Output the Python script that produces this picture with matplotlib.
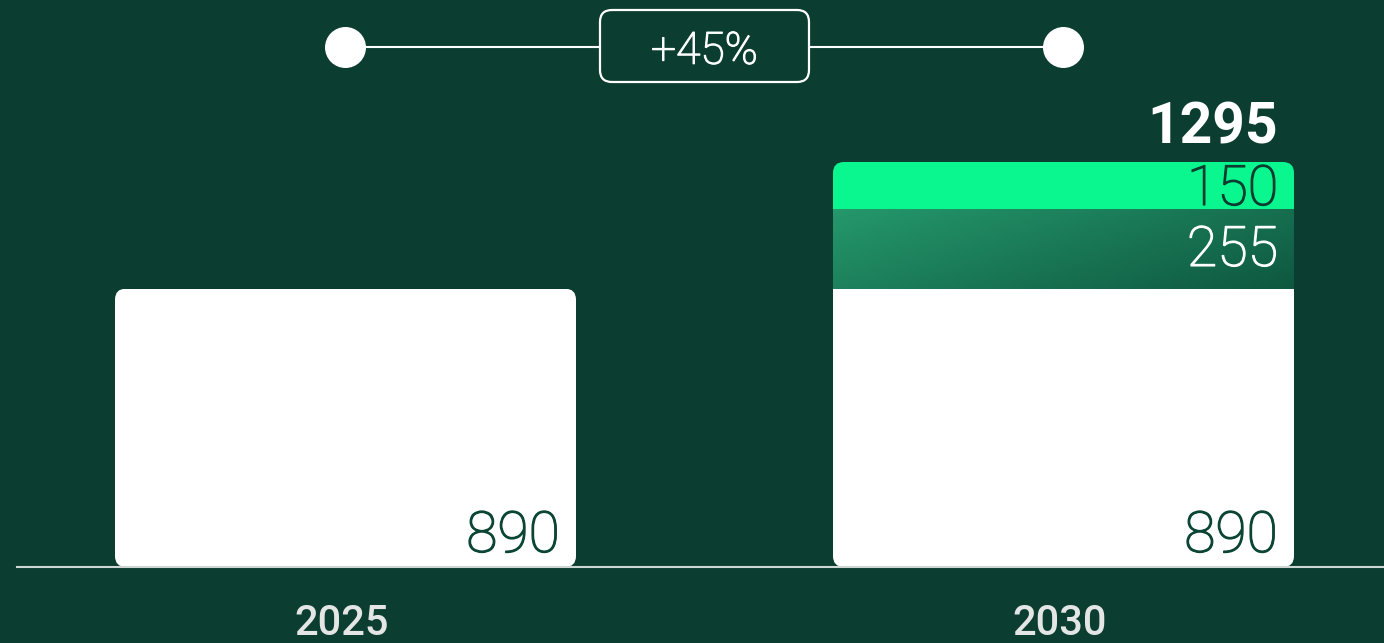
import matplotlib
matplotlib.use('Agg')
import matplotlib.pyplot as plt
import matplotlib.patheffects as pe
import numpy as np
from matplotlib.patches import FancyBboxPatch
from matplotlib.colors import LinearSegmentedColormap

# ---- data ----
years = ['2025', '2030']
base = [890, 890]
mid = [0, 255]
top = [0, 150]
growth_label = '+45%'

# ---- style / layout ----
BG = '#0b3e30'
W, H = 1384, 643
FONT = 'Roboto'
NUMW = 'light'
fig = plt.figure(figsize=(W / 100, H / 100), dpi=100, facecolor=BG)
ax = fig.add_axes([0, 0, 1, 1])
ax.set_facecolor(BG)
ax.axis('off')


def thick(c):
    return [pe.Stroke(linewidth=0.9, foreground=c), pe.Normal()]


XL = (-0.4812, 1.4464)
YL = (-243, 1813)
sx = W / (XL[1] - XL[0])   # px per x unit
sy = H / (YL[1] - YL[0])   # px per y unit
bw = 461 / sx
r = 11  # corner radius in px

x = np.arange(len(years))
base_a = np.array(base)
mid_a = np.array(mid)
top_a = np.array(top)
totals = base_a + mid_a + top_a

grad_cmap = LinearSegmentedColormap.from_list('g', ['#25986c', '#0e5840'])

for i in range(len(years)):
    clip = FancyBboxPatch((x[i] - bw / 2, 0), bw, totals[i],
                          boxstyle=f'round,pad=0,rounding_size={r / sx}',
                          mutation_aspect=sx / sy, fc='none', ec='none',
                          transform=ax.transData)
    ax.add_patch(clip)
    b1 = ax.bar(x[i], base_a[i], bw, color='white', linewidth=0)
    b1[0].set_clip_path(clip)
    if mid_a[i] > 0:
        u = np.linspace(0, 1, 300)[None, :]
        v = np.linspace(0, 1, 60)[:, None]
        t = 0.65 * u + 0.35 * v
        im = ax.imshow(t, cmap=grad_cmap, aspect='auto', origin='upper',
                       extent=(x[i] - bw / 2, x[i] + bw / 2, base_a[i], base_a[i] + mid_a[i]),
                       interpolation='bilinear', zorder=2)
        im.set_clip_path(clip)
    if top_a[i] > 0:
        b3 = ax.bar(x[i], top_a[i], bw, bottom=base_a[i] + mid_a[i], color='#0af78f',
                    linewidth=0, zorder=2)
        b3[0].set_clip_path(clip)

    right = x[i] + bw / 2
    ax.annotate(str(base_a[i]), xy=(right, 0), xytext=(-16, 15), textcoords='offset pixels',
                ha='right', va='baseline', fontsize=41, color='#0b4535',
                family=FONT, fontweight=NUMW, zorder=5, path_effects=thick('#0b4535'))
    if mid_a[i] > 0:
        ax.annotate(str(mid_a[i]), xy=(right, base_a[i] + mid_a[i]), xytext=(-16, -57),
                    textcoords='offset pixels', ha='right', va='baseline', fontsize=40,
                    color='white', family=FONT, fontweight=NUMW, zorder=5,
                    path_effects=thick('white'))
    if top_a[i] > 0:
        ax.annotate(str(top_a[i]), xy=(right, totals[i]), xytext=(-16, -43),
                    textcoords='offset pixels', ha='right', va='baseline', fontsize=40,
                    color='#0b3d2f', family=FONT, fontweight=NUMW, zorder=5,
                    path_effects=thick('#0b3d2f'))
    if mid_a[i] + top_a[i] > 0:
        ax.annotate(str(totals[i]), xy=(right, totals[i]), xytext=(-16, 19),
                    textcoords='offset pixels', ha='right', va='baseline', fontsize=41,
                    color='white', family=FONT, fontweight='bold', zorder=5)

    ax.annotate(years[i], xy=(x[i], 0), xytext=(-4, -68), textcoords='offset pixels',
                ha='center', va='baseline', fontsize=30, color='#e4e6e5',
                family=FONT, fontweight='medium')

# baseline
ax.axhline(0, xmin=17 / W, xmax=1, color='#cdd6d2', lw=1.5, zorder=6)

# connector with growth label
tr = ax.get_xaxis_transform()
yc = 1 - 47 / H
box_w = 209 / sx
box_h = 72 / H
xm = x.mean()
ax.plot([x[0], xm - box_w / 2], [yc, yc], color='white', lw=1.5, transform=tr, zorder=3)
ax.plot([xm + box_w / 2, x[1]], [yc, yc], color='white', lw=1.5, transform=tr, zorder=3)
ax.plot(x, [yc, yc], 'o', ms=28.5, color='white', mec='white', transform=tr, zorder=4)
box = FancyBboxPatch((xm - box_w / 2, 1 - 82 / H), box_w, box_h,
                     boxstyle=f'round,pad=0,rounding_size={12 / sx}',
                     mutation_aspect=sx / H, fc=BG, ec='white', lw=1.6,
                     transform=tr, zorder=4)
ax.add_patch(box)
ax.text(xm, yc, growth_label, transform=tr, ha='center', va='center_baseline',
        fontsize=32, color='white', family=FONT, fontweight=NUMW, zorder=5,
        path_effects=thick('white'))

ax.set_xlim(XL)
ax.set_ylim(YL)
fig.savefig('out.png', dpi=100, facecolor=BG)
